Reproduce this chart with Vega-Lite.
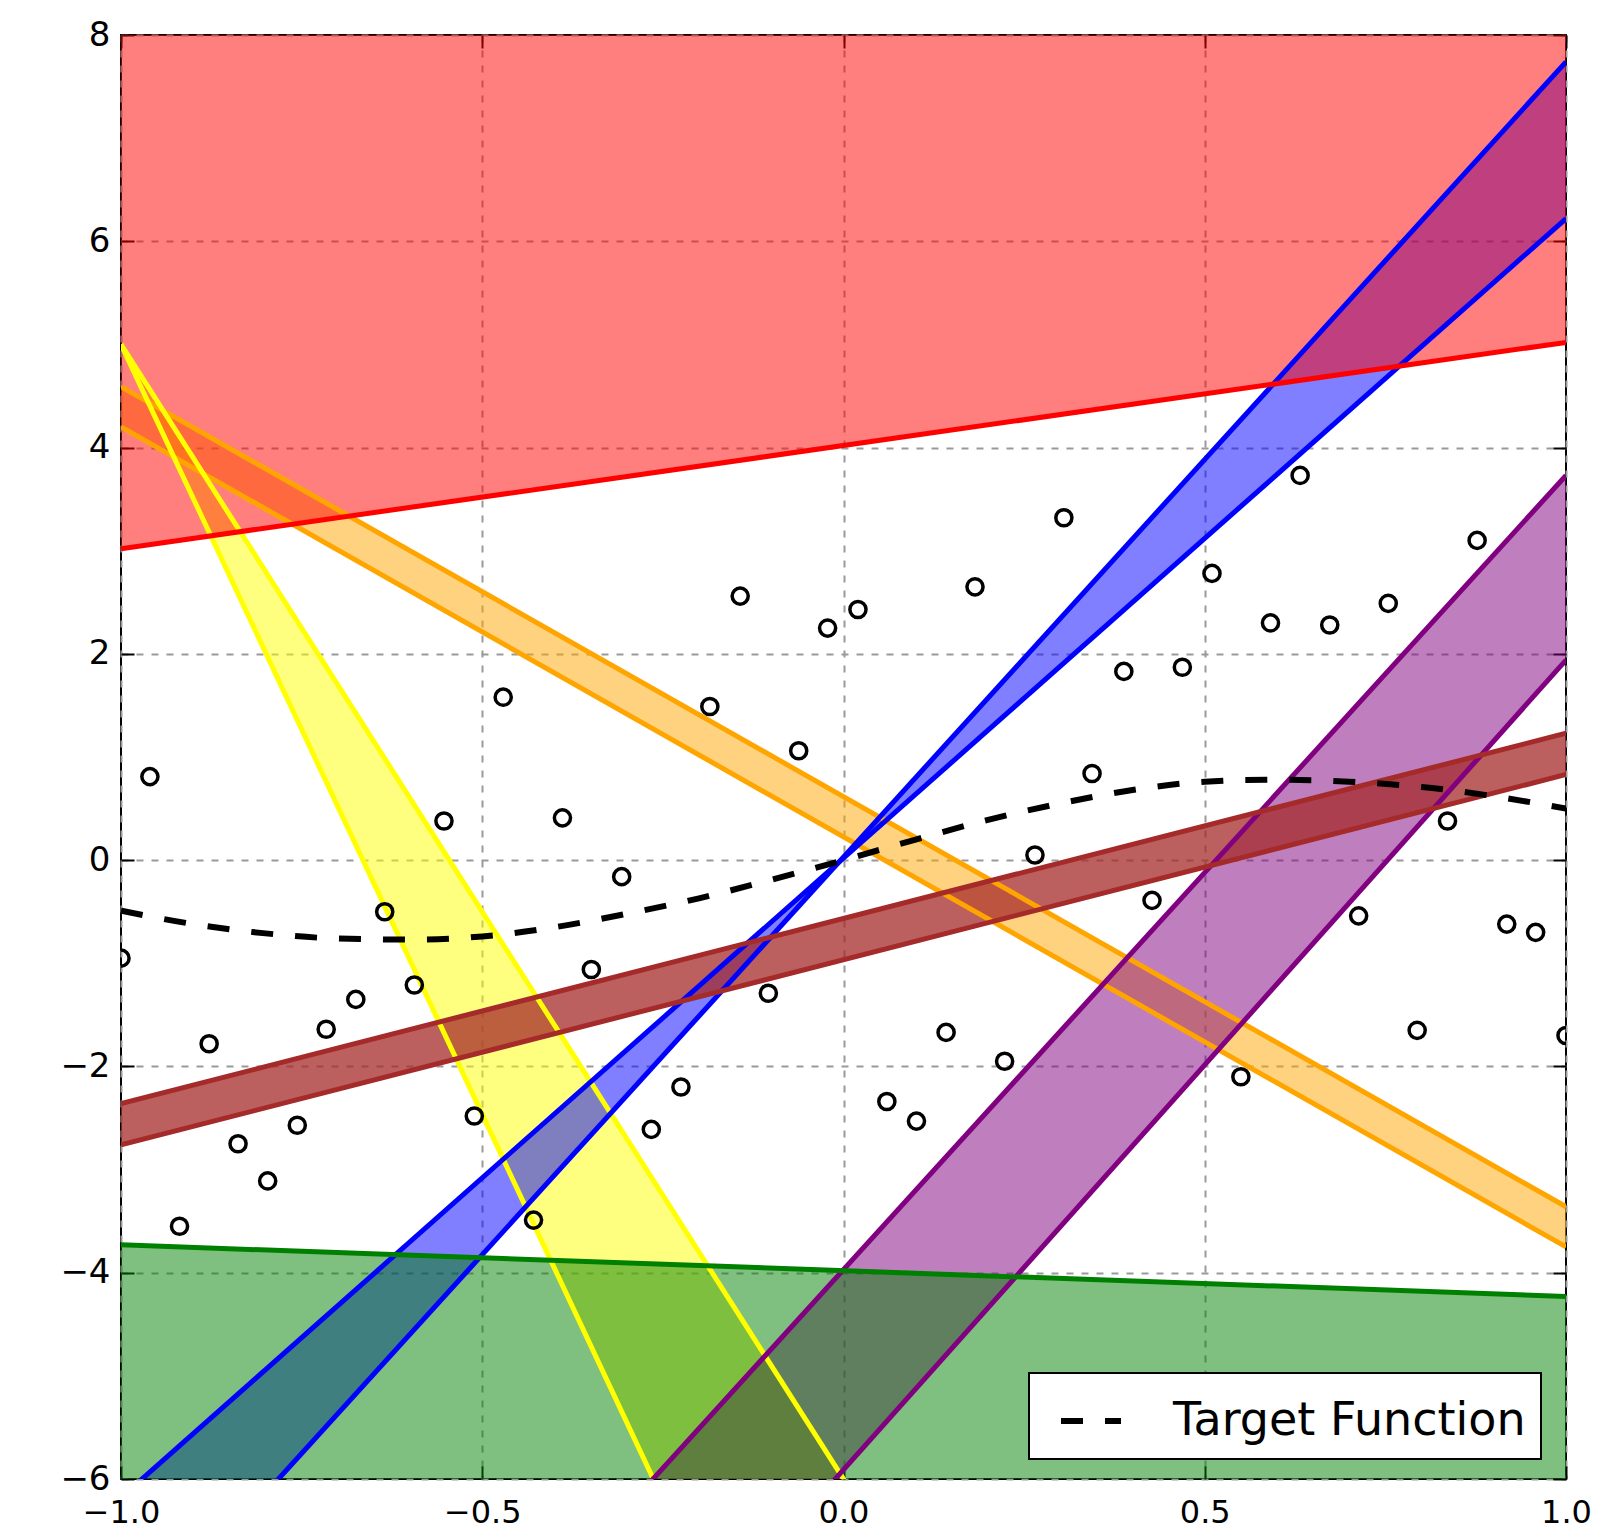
{
  "$schema": "https://vega.github.io/schema/vega-lite/v6.json",
  "width": 1445,
  "height": 1444,
  "autosize": {"type": "none"},
  "padding": {"left": 121, "top": 35, "right": 44, "bottom": 51},
  "background": "white",
  "config": {
    "view": {"stroke": "black", "strokeWidth": 2},
    "axis": {
      "labelFont": "DejaVu Sans",
      "labelFontSize": 34,
      "labelColor": "black",
      "labelFlush": false,
      "domain": false,
      "tickColor": "black",
      "tickWidth": 2,
      "tickSize": -13,
      "gridColor": "#9a9a9a",
      "gridWidth": 2,
      "gridDash": [7, 8],
      "zindex": 1,
      "title": null
    },
    "legend": {
      "orient": "none",
      "legendX": 908,
      "legendY": 1338,
      "fillColor": "white",
      "strokeColor": "black",
      "strokeWidth": 2,
      "padding": 15,
      "labelFont": "DejaVu Sans",
      "labelFontSize": 46,
      "labelColor": "black",
      "labelLimit": 0,
      "labelOffset": 49,
      "symbolOffset": 14,
      "symbolSize": 3600,
      "symbolStrokeWidth": 6,
      "symbolStrokeColor": "black",
      "title": null
    }
  },
  "datasets": {
    "fills": [
      {"band": "orange", "x": -1, "lo": 4.20, "hi": 4.59},
      {"band": "orange", "x": 1, "lo": -3.75, "hi": -3.36},
      {"band": "yellow", "x": -1, "lo": 5.0, "hi": 5.0},
      {"band": "yellow", "x": 1, "lo": -24.86, "hi": -17.0},
      {"band": "blue", "x": -1, "lo": -7.68, "hi": -6.18},
      {"band": "blue", "x": 1, "lo": 7.74, "hi": 6.22},
      {"band": "purple", "x": -1, "lo": -13.76, "hi": -11.67},
      {"band": "purple", "x": 1, "lo": 1.94, "hi": 3.73},
      {"band": "brown", "x": -1, "lo": -2.76, "hi": -2.36},
      {"band": "brown", "x": 1, "lo": 0.83, "hi": 1.23},
      {"band": "green", "x": -1, "lo": -6, "hi": -3.73},
      {"band": "green", "x": 1, "lo": -6, "hi": -4.23},
      {"band": "red", "x": -1, "lo": 3.02, "hi": 8},
      {"band": "red", "x": 1, "lo": 5.02, "hi": 8}
    ],
    "edges": [
      {"edge": "orange_hi", "color": "orange", "x": -1, "y": 4.59},
      {"edge": "orange_hi", "color": "orange", "x": 1, "y": -3.36},
      {"edge": "orange_lo", "color": "orange", "x": -1, "y": 4.20},
      {"edge": "orange_lo", "color": "orange", "x": 1, "y": -3.75},
      {"edge": "yellow_r", "color": "yellow", "x": -1, "y": 5.0},
      {"edge": "yellow_r", "color": "yellow", "x": 1, "y": -17.0},
      {"edge": "yellow_l", "color": "yellow", "x": -1, "y": 5.0},
      {"edge": "yellow_l", "color": "yellow", "x": 1, "y": -24.86},
      {"edge": "blue_s", "color": "blue", "x": -1, "y": -7.68},
      {"edge": "blue_s", "color": "blue", "x": 1, "y": 7.74},
      {"edge": "blue_f", "color": "blue", "x": -1, "y": -6.18},
      {"edge": "blue_f", "color": "blue", "x": 1, "y": 6.22},
      {"edge": "purple_u", "color": "purple", "x": -1, "y": -11.67},
      {"edge": "purple_u", "color": "purple", "x": 1, "y": 3.73},
      {"edge": "purple_l", "color": "purple", "x": -1, "y": -13.76},
      {"edge": "purple_l", "color": "purple", "x": 1, "y": 1.94},
      {"edge": "brown_u", "color": "brown", "x": -1, "y": -2.36},
      {"edge": "brown_u", "color": "brown", "x": 1, "y": 1.23},
      {"edge": "brown_l", "color": "brown", "x": -1, "y": -2.76},
      {"edge": "brown_l", "color": "brown", "x": 1, "y": 0.83},
      {"edge": "green", "color": "green", "x": -1, "y": -3.73},
      {"edge": "green", "color": "green", "x": 1, "y": -4.23},
      {"edge": "red", "color": "red", "x": -1, "y": 3.02},
      {"edge": "red", "color": "red", "x": 1, "y": 5.02}
    ],
    "target": [
      {"series": "Target Function", "x": -1.0, "y": -0.49},
      {"series": "Target Function", "x": -0.9, "y": -0.62},
      {"series": "Target Function", "x": -0.8, "y": -0.71},
      {"series": "Target Function", "x": -0.7, "y": -0.76},
      {"series": "Target Function", "x": -0.6, "y": -0.77},
      {"series": "Target Function", "x": -0.5, "y": -0.74},
      {"series": "Target Function", "x": -0.4, "y": -0.65},
      {"series": "Target Function", "x": -0.3, "y": -0.52},
      {"series": "Target Function", "x": -0.2, "y": -0.37},
      {"series": "Target Function", "x": -0.1, "y": -0.19},
      {"series": "Target Function", "x": 0.0, "y": 0.0},
      {"series": "Target Function", "x": 0.1, "y": 0.2},
      {"series": "Target Function", "x": 0.2, "y": 0.39},
      {"series": "Target Function", "x": 0.3, "y": 0.55},
      {"series": "Target Function", "x": 0.4, "y": 0.68},
      {"series": "Target Function", "x": 0.5, "y": 0.76},
      {"series": "Target Function", "x": 0.6, "y": 0.78},
      {"series": "Target Function", "x": 0.7, "y": 0.76},
      {"series": "Target Function", "x": 0.8, "y": 0.71},
      {"series": "Target Function", "x": 0.9, "y": 0.62},
      {"series": "Target Function", "x": 1.0, "y": 0.5}
    ],
    "points": [
      {"x": -1.0, "y": -0.95},
      {"x": -0.960, "y": 0.81},
      {"x": -0.919, "y": -3.55},
      {"x": -0.878, "y": -1.78},
      {"x": -0.838, "y": -2.75},
      {"x": -0.797, "y": -3.11},
      {"x": -0.756, "y": -2.57},
      {"x": -0.716, "y": -1.64},
      {"x": -0.675, "y": -1.35},
      {"x": -0.635, "y": -0.50},
      {"x": -0.594, "y": -1.21},
      {"x": -0.553, "y": 0.38},
      {"x": -0.511, "y": -2.48},
      {"x": -0.471, "y": 1.58},
      {"x": -0.429, "y": -3.49},
      {"x": -0.389, "y": 0.41},
      {"x": -0.349, "y": -1.06},
      {"x": -0.307, "y": -0.16},
      {"x": -0.266, "y": -2.61},
      {"x": -0.225, "y": -2.20},
      {"x": -0.185, "y": 1.49},
      {"x": -0.143, "y": 2.56},
      {"x": -0.104, "y": -1.29},
      {"x": -0.062, "y": 1.06},
      {"x": -0.022, "y": 2.25},
      {"x": 0.020, "y": 2.43},
      {"x": 0.060, "y": -2.34},
      {"x": 0.101, "y": -2.53},
      {"x": 0.142, "y": -1.67},
      {"x": 0.182, "y": 2.65},
      {"x": 0.223, "y": -1.95},
      {"x": 0.265, "y": 0.05},
      {"x": 0.305, "y": 3.32},
      {"x": 0.344, "y": 0.84},
      {"x": 0.388, "y": 1.83},
      {"x": 0.427, "y": -0.39},
      {"x": 0.469, "y": 1.87},
      {"x": 0.510, "y": 2.78},
      {"x": 0.550, "y": -2.10},
      {"x": 0.591, "y": 2.30},
      {"x": 0.632, "y": 3.73},
      {"x": 0.673, "y": 2.28},
      {"x": 0.713, "y": -0.54},
      {"x": 0.754, "y": 2.49},
      {"x": 0.794, "y": -1.65},
      {"x": 0.836, "y": 0.38},
      {"x": 0.877, "y": 3.10},
      {"x": 0.918, "y": -0.62},
      {"x": 0.958, "y": -0.70},
      {"x": 1.0, "y": -1.70}
    ]
  },
  "resolve": {"axis": {"x": "independent", "y": "independent"}},
  "layer": [
    {
      "data": {"name": "fills"},
      "transform": [{"filter": "datum.band === 'orange'"}],
      "mark": {"type": "area", "color": "#ffa500", "opacity": 0.5, "clip": true},
      "encoding": {
        "x": {"field": "x", "type": "quantitative", "scale": {"domain": [-1, 1], "nice": false, "zero": false}, "axis": null},
        "y": {"field": "lo", "type": "quantitative", "scale": {"domain": [-6, 8], "nice": false, "zero": false}, "axis": null},
        "y2": {"field": "hi"}
      }
    },
    {
      "data": {"name": "fills"},
      "transform": [{"filter": "datum.band === 'yellow'"}],
      "mark": {"type": "area", "color": "#ffff00", "opacity": 0.5, "clip": true},
      "encoding": {
        "x": {"field": "x", "type": "quantitative", "axis": null},
        "y": {"field": "lo", "type": "quantitative", "axis": null},
        "y2": {"field": "hi"}
      }
    },
    {
      "data": {"name": "fills"},
      "transform": [{"filter": "datum.band === 'blue'"}],
      "mark": {"type": "area", "color": "#0000ff", "opacity": 0.5, "clip": true},
      "encoding": {
        "x": {"field": "x", "type": "quantitative", "axis": null},
        "y": {"field": "lo", "type": "quantitative", "axis": null},
        "y2": {"field": "hi"}
      }
    },
    {
      "data": {"name": "fills"},
      "transform": [{"filter": "datum.band === 'purple'"}],
      "mark": {"type": "area", "color": "#800080", "opacity": 0.5, "clip": true},
      "encoding": {
        "x": {"field": "x", "type": "quantitative", "axis": null},
        "y": {"field": "lo", "type": "quantitative", "axis": null},
        "y2": {"field": "hi"}
      }
    },
    {
      "data": {"name": "fills"},
      "transform": [{"filter": "datum.band === 'brown'"}],
      "mark": {"type": "area", "color": "#a52a2a", "opacity": 0.75, "clip": true},
      "encoding": {
        "x": {"field": "x", "type": "quantitative", "axis": null},
        "y": {"field": "lo", "type": "quantitative", "axis": null},
        "y2": {"field": "hi"}
      }
    },
    {
      "data": {"name": "fills"},
      "transform": [{"filter": "datum.band === 'green'"}],
      "mark": {"type": "area", "color": "#008000", "opacity": 0.5, "clip": true},
      "encoding": {
        "x": {"field": "x", "type": "quantitative", "axis": null},
        "y": {"field": "lo", "type": "quantitative", "axis": null},
        "y2": {"field": "hi"}
      }
    },
    {
      "data": {"name": "fills"},
      "transform": [{"filter": "datum.band === 'red'"}],
      "mark": {"type": "area", "color": "#ff0000", "opacity": 0.5, "clip": true},
      "encoding": {
        "x": {"field": "x", "type": "quantitative", "axis": null},
        "y": {"field": "lo", "type": "quantitative", "axis": null},
        "y2": {"field": "hi"}
      }
    },
    {
      "data": {"name": "edges"},
      "mark": {"type": "line", "strokeWidth": 5, "clip": true},
      "encoding": {
        "x": {"field": "x", "type": "quantitative", "axis": null},
        "y": {"field": "y", "type": "quantitative", "axis": null},
        "detail": {"field": "edge"},
        "color": {
          "field": "color", "type": "nominal", "legend": null,
          "scale": {
            "domain": ["orange", "yellow", "blue", "purple", "brown", "green", "red"],
            "range": ["#ffa500", "#ffff00", "#0000ff", "#800080", "#a52a2a", "#008000", "#ff0000"]
          }
        }
      }
    },
    {
      "data": {"name": "target"},
      "mark": {"type": "line", "strokeWidth": 6, "color": "black", "interpolate": "monotone", "clip": true},
      "encoding": {
        "x": {"field": "x", "type": "quantitative", "axis": {"orient": "top", "values": [-1, -0.5, 0, 0.5, 1], "labels": false, "grid": false}},
        "y": {"field": "y", "type": "quantitative", "axis": {"orient": "right", "values": [-6, -4, -2, 0, 2, 4, 6, 8], "labels": false, "grid": false}},
        "strokeDash": {
          "field": "series", "type": "nominal",
          "scale": {"domain": ["Target Function"], "range": [[22, 22]]}
        }
      }
    },
    {
      "data": {"name": "points"},
      "mark": {"type": "point", "shape": "circle", "filled": false, "color": "black", "size": 260, "strokeWidth": 3.5, "opacity": 1, "clip": true},
      "encoding": {
        "x": {"field": "x", "type": "quantitative", "axis": {"orient": "bottom", "values": [-1, -0.5, 0, 0.5, 1], "format": ".1f", "grid": true, "labelPadding": 31, "labelFontSize": 32}},
        "y": {"field": "y", "type": "quantitative", "axis": {"orient": "left", "values": [-6, -4, -2, 0, 2, 4, 6, 8], "format": "d", "grid": true, "labelPadding": 24}}
      }
    }
  ]
}
